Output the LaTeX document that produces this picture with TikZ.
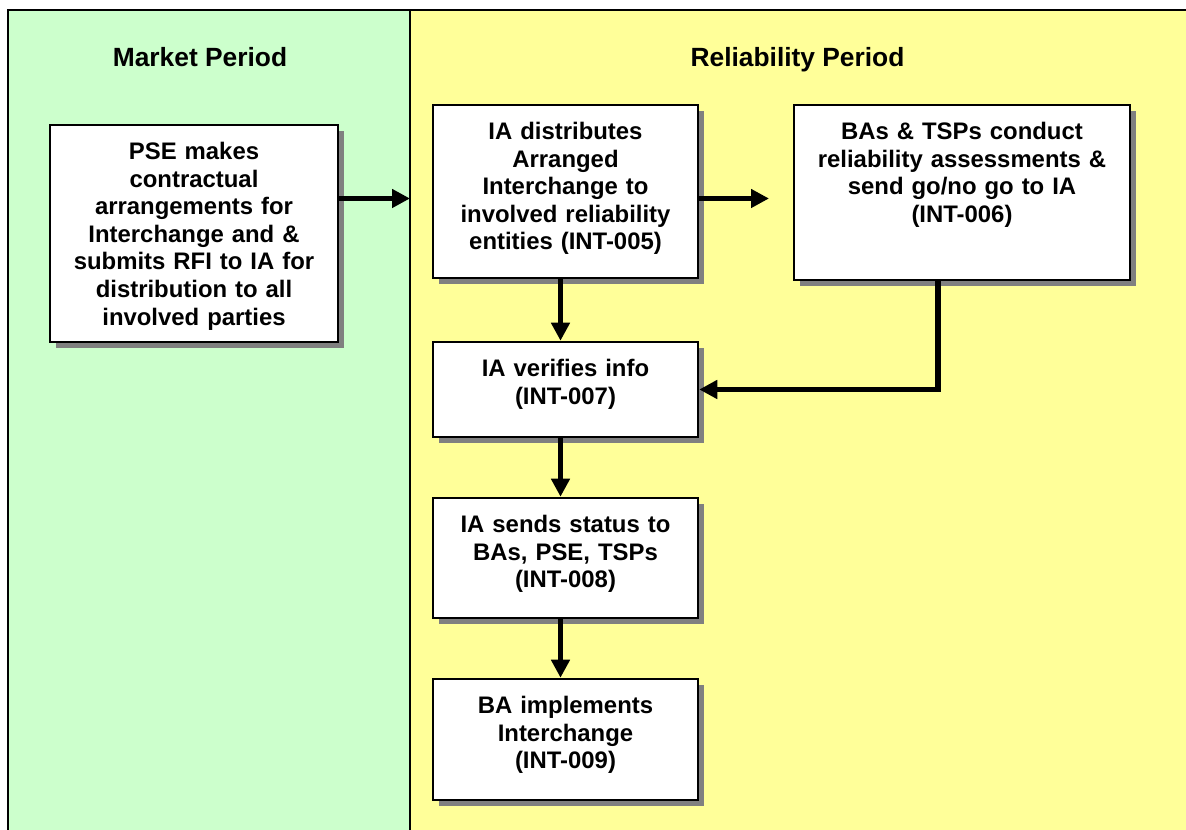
\documentclass[tikz,border=0pt]{standalone}
\usepackage{fontspec}
\setmainfont{Liberation Sans}
\usetikzlibrary{positioning}
\usetikzlibrary{arrows.meta, shadows}

\definecolor{marketgreen}{HTML}{CCFFCC}
\definecolor{reliyellow}{HTML}{FFFF99}
\definecolor{shadowgray}{HTML}{808080}

\tikzset{
  stepbox/.style={draw=black, line width=0.05cm, fill=white, inner xsep=0.1cm, inner ysep=0pt,
    align=center, text height=0.69cm, font=\bfseries\fontsize{13.6}{15.7}\selectfont,
    drop shadow={shadow xshift=0.12cm, shadow yshift=-0.12cm, fill=shadowgray, opacity=1}},
  flow/.style={line width=0.11cm, -{Triangle[length=0.36cm,width=0.36cm]}},
  period/.style={font=\bfseries\fontsize{15}{18}\selectfont, anchor=base}
}

\begin{document}
\begin{tikzpicture}
\useasboundingbox (0,0) rectangle (23.72,16.6);
\clip (0,0) rectangle (23.72,16.6);
\draw[fill=marketgreen,line width=0.045cm] (0.16,-0.5) rectangle (8.2,16.4);
\draw[fill=reliyellow,line width=0.045cm] (8.2,-0.5) rectangle (24.2,16.4);

\node[period] (market) at (4.0,15.26) {Market Period};
\node[period] (reliability) at (15.95,15.26) {Reliability Period};

\node[stepbox, text width=5.56cm, text depth=3.65cm] (pse) at (3.88,11.93)
  {PSE makes\\contractual\\arrangements for\\Interchange and \&\\submits RFI to IA for\\distribution to all\\involved parties};
\node[stepbox, text width=5.1cm, text depth=2.77cm] (dist) at (11.31,12.77)
  {IA distributes\\Arranged\\Interchange to\\involved reliability\\entities (INT-005)};
\node[stepbox, text width=6.52cm, text depth=2.81cm] (assess) at (19.24,12.75)
  {BAs \& TSPs conduct\\reliability assessments \&\\send go/no go to IA\\(INT-006)};
\node[stepbox, text width=5.1cm, text depth=1.21cm] (verify) at (11.31,8.81)
  {IA verifies info\\(INT-007)};
\node[stepbox, text width=5.1cm, text depth=1.71cm] (status) at (11.31,5.44)
  {IA sends status to\\BAs, PSE, TSPs\\(INT-008)};
\node[stepbox, text width=5.1cm, text depth=1.73cm] (implement) at (11.31,1.81)
  {BA implements\\Interchange\\(INT-009)};

% arrow rows and columns
\coordinate (border) at (8.2,12.63);
\coordinate (gap) at (15.38,12.63);
\coordinate (col) at (11.21,0);
\coordinate (loop) at (18.76,0);

\draw[flow] (pse.east |- border) -- (border);
\draw[flow] (dist.east |- gap) -- (gap);
\draw[flow] (dist.south -| col) -- (verify.north -| col);
\draw[flow] (verify.south -| col) -- (status.north -| col);
\draw[flow] (status.south -| col) -- (implement.north -| col);
\draw[flow] (assess.south -| loop) |- (verify.east);

\end{tikzpicture}
\end{document}
